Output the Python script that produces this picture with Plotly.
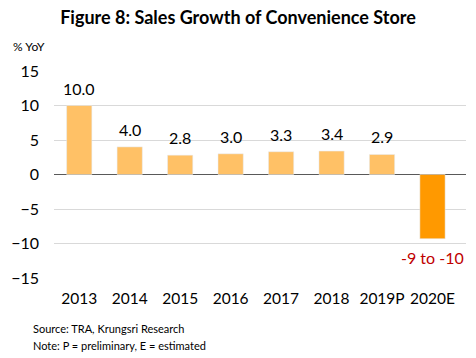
import plotly.graph_objects as go

categories = ["2013", "2014", "2015", "2016", "2017", "2018", "2019P", "2020E"]
values = [10.0, 4.0, 2.8, 3.0, 3.3, 3.4, 2.9, -9.3]
labels = ["10.0", "4.0", "2.8", "3.0", "3.3", "3.4", "2.9", "-9 to -10"]
colors = ["#FFC166"] * 7 + ["#FF9900"]
label_colors = ["#000000"] * 7 + ["#C00000"]

FONT = "Lato, Open Sans, sans-serif"

fig = go.Figure(go.Bar(
    x=categories, y=values, marker_color=colors, width=0.5,
    hoverinfo="x+y",
))

label_anns = []
for i, (v, t, col) in enumerate(zip(values, labels, label_colors)):
    label_anns.append(dict(
        x=i, y=v, xref="x", yref="y", text=t, showarrow=False,
        yanchor="bottom" if v >= 0 else "top",
        yshift=6 if v >= 0 else -7,
        font=dict(size=16, color=col, family=FONT),
    ))

fig.update_layout(
    width=476, height=358,
    margin=dict(l=54, r=10, t=71, b=80, autoexpand=False),
    plot_bgcolor="white", paper_bgcolor="white",
    showlegend=False,
    font=dict(family=FONT, size=15, color="#000000"),
    title=dict(text="<b>Figure 8: Sales Growth of Convenience Store</b>",
               x=0.5, xanchor="center", y=0.95, yanchor="middle",
               font=dict(size=18, family=FONT)),
    xaxis=dict(type="category", showgrid=False, showline=False, ticks="",
               tickfont=dict(size=15.5), ticklabelstandoff=9, automargin=False),
    yaxis=dict(range=[-15, 15], dtick=5, showgrid=True, gridcolor="#D9D9D9",
               zeroline=True, zerolinecolor="#595959", zerolinewidth=1,
               tickfont=dict(size=16), ticks="", ticklabelstandoff=14,
               automargin=False),
    annotations=label_anns + [
        dict(text="% YoY", xref="paper", yref="paper", x=-0.105, y=1.12,
             xanchor="left", yanchor="middle", showarrow=False, font=dict(size=12)),
        dict(text="Source: TRA, Krungsri Research", xref="paper", yref="paper",
             x=-0.055, y=-0.242, xanchor="left", yanchor="middle", showarrow=False,
             font=dict(size=11)),
        dict(text="Note: P = preliminary, E = estimated", xref="paper", yref="paper",
             x=-0.055, y=-0.324, xanchor="left", yanchor="middle", showarrow=False,
             font=dict(size=11)),
    ],
)

fig.write_html("out.html", post_script="document.body.style.margin='0';",
               config={"displayModeBar": False})
